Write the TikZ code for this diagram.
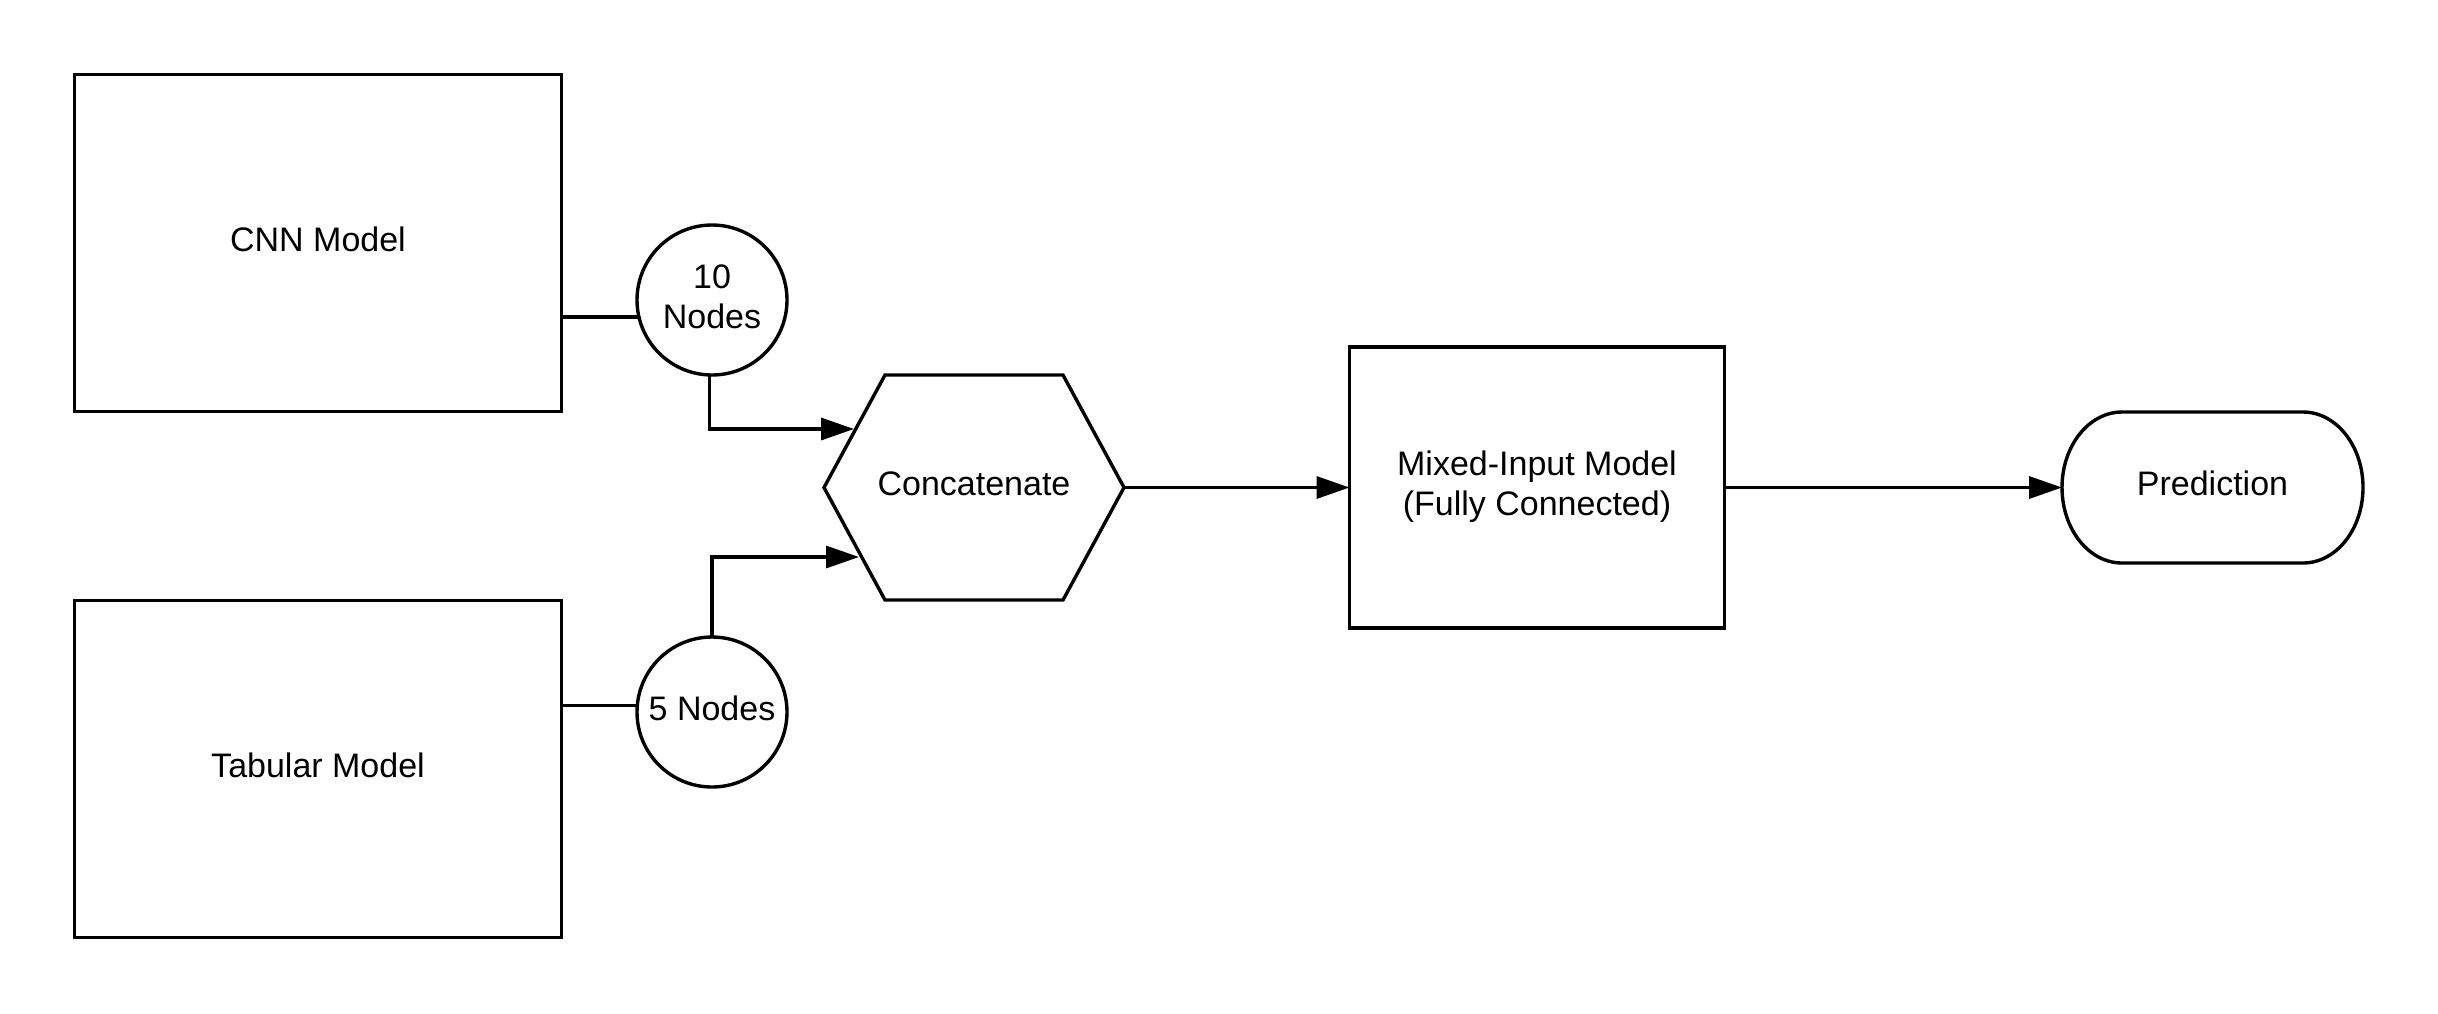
\documentclass[tikz,border=0pt]{standalone}
\usepackage{fontspec}
\setmainfont{Liberation Sans}
\usetikzlibrary{arrows.meta}
\newcommand\shup[1]{\raisebox{3pt}{\begin{tabular}{@{}c@{}}#1\end{tabular}}}
\begin{document}
\begin{tikzpicture}[x=1pt,y=-1pt,
  every node/.style={inner sep=0pt,outer sep=0pt,font=\fontsize{34}{40}\selectfont},
  ln/.style={line width=3.4pt,line join=miter},
  boxnode/.style={ln,draw,rectangle},
  circnode/.style={ln,draw,circle,minimum size=150pt},
  arr/.style={ln,-{Triangle[length=33pt,width=22pt]}}]
\useasboundingbox (0,0) rectangle (2438,1013);
\fill[white] (0,0) rectangle (2438,1013);
% nodes
\node[boxnode,minimum width=487pt,minimum height=337pt] (cnn) at (318,243) {\shup{CNN Model}};
\node[boxnode,minimum width=487pt,minimum height=337pt] (tab) at (318,769) {\shup{Tabular Model}};
\node[circnode] (c10) at (712,300) {\shup{10\\Nodes}};
\node[circnode] (c5) at (712,712) {\shup{5 Nodes}};
\node[rectangle,minimum width=300pt,minimum height=225pt] (hex) at (974,487.5) {\shup{Concatenate}};
\draw[ln] (hex.west) -- ([xshift=61pt]hex.north west) -- ([xshift=-61pt]hex.north east)
  -- (hex.east) -- ([xshift=-61pt]hex.south east) -- ([xshift=61pt]hex.south west) -- cycle;
\node[boxnode,minimum width=375pt,minimum height=281pt] (mix) at (1537,487.5) {\shup{Mixed-Input Model\\(Fully Connected)}};
\node[rectangle,minimum width=301pt,minimum height=151pt] (pred) at (2212.5,487.5) {\shup{Prediction}};
\draw[ln] ([xshift=-60pt]pred.north east) arc[start angle=90,end angle=-90,x radius=60pt,y radius=75.5pt]
  -- ([xshift=60pt]pred.south west) arc[start angle=270,end angle=90,x radius=60pt,y radius=75.5pt] -- cycle;
% hexagon entry points
\coordinate (hin1) at (854,429);
\coordinate (hin2) at (859,557);
% connectors
\draw[ln] (cnn.east |- c10.193) -- (c10.193);
\draw[ln] (tab.east |- c5.175) -- (c5.175);
\draw[arr] (c10.268) |- (hin1);
\draw[arr] (c5.north) |- (hin2);
\draw[arr] (hex.east) -- (mix.west);
\draw[arr] (mix.east) -- (pred.west);
\end{tikzpicture}
\end{document}
